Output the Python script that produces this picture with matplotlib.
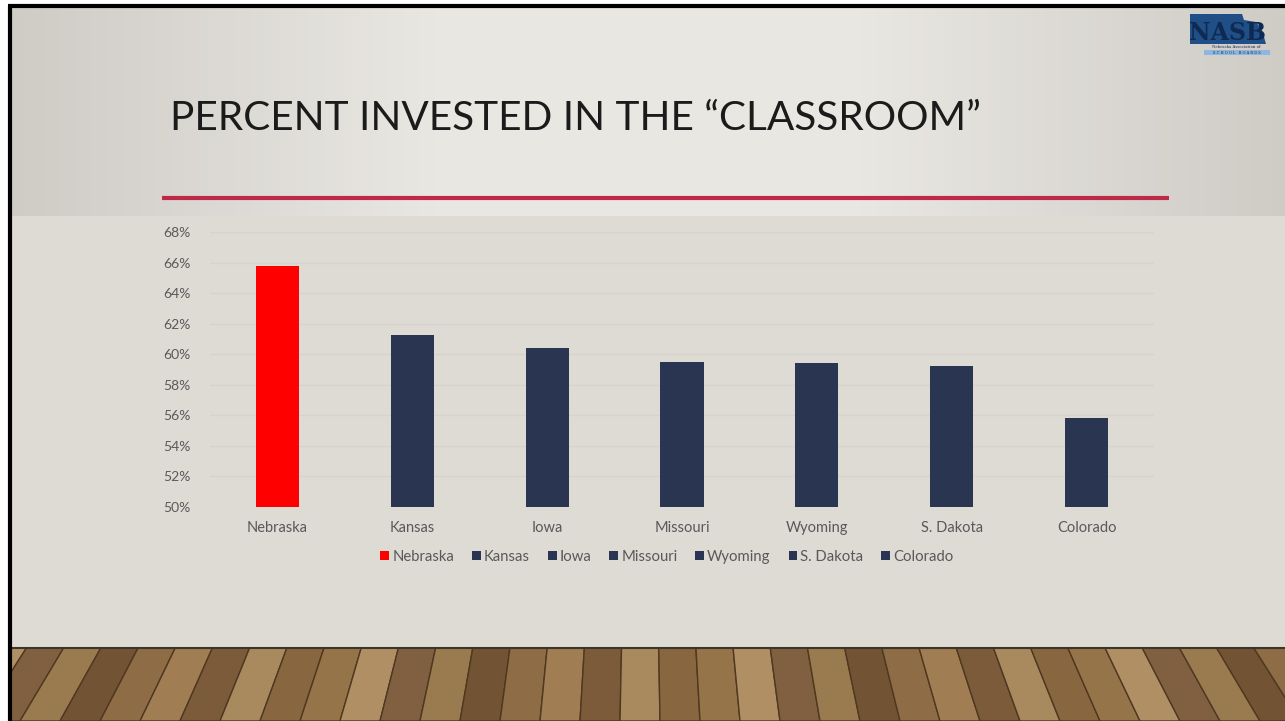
import matplotlib
matplotlib.use("Agg")
import matplotlib.pyplot as plt
import numpy as np
from matplotlib.patches import Patch, Polygon, Rectangle
from matplotlib.colors import LinearSegmentedColormap

# ---- data ----
categories = ["Nebraska", "Kansas", "Iowa", "Missouri", "Wyoming", "S. Dakota", "Colorado"]
values = [65.8, 61.25, 60.4, 59.5, 59.4, 59.2, 55.8]
bar_colors = ["#ff0000", "#2a3551", "#2a3551", "#2a3551", "#2a3551", "#2a3551", "#2a3551"]
y_ticks = [50, 52, 54, 56, 58, 60, 62, 64, 66, 68]
y_tick_labels = [f"{t}%" for t in y_ticks]
title = "PERCENT INVESTED IN THE \u201cCLASSROOM\u201d"

W, H = 1285, 721
fig = plt.figure(figsize=(W / 100, H / 100), dpi=100)
fig.patch.set_facecolor("white")

# ---- background (slide) ----
bg = fig.add_axes([0, 0, 1, 1], zorder=0)
bg.set_xlim(0, W)
bg.set_ylim(H, 0)
bg.axis("off")

bg.add_patch(Rectangle((8, 4), W - 8, H - 4, facecolor="#dedbd5", edgecolor="none"))
grad_cmap = LinearSegmentedColormap.from_list("band", ["#cfccc6", "#e9e7e2", "#e9e7e2", "#cfccc6"])
grad = np.linspace(0, 1, 256).reshape(1, -1)
bg.imshow(grad, cmap=grad_cmap, extent=(11, W, 216, 7), aspect="auto", zorder=1)

# red rule under title
bg.plot([162, 1169], [198, 198], color="#c0284a", lw=3, zorder=3, solid_capstyle="butt")

# title
bg.text(170, 119, title, fontsize=29.2, family="Lato", color="#1b1b1b", va="center", ha="left", zorder=4)

# wooden floor
floor_top = 648
bg.add_patch(Rectangle((11, floor_top), W - 11, H - floor_top, facecolor="#8a6a45", edgecolor="none", zorder=2))
vx, vy = 642, -320
plank_cols = ["#8d6c46", "#a07d52", "#7b5b39", "#a98a5f", "#88663f", "#967449", "#b08f64", "#806040",
              "#9a7a4f", "#725434"]
xs_bottom = list(range(-300, W + 340, 40))
def x_at(xb, y):
    t = (H - y) / (H - vy)
    return xb + (vx - xb) * t
for i in range(len(xs_bottom) - 1):
    x0, x1 = xs_bottom[i], xs_bottom[i + 1]
    poly = [(x0, H), (x1, H), (x_at(x1, floor_top), floor_top), (x_at(x0, floor_top), floor_top)]
    bg.add_patch(Polygon(poly, closed=True, facecolor=plank_cols[i % len(plank_cols)],
                         edgecolor="#4e3820", lw=1.0, zorder=2, clip_on=True))
bg.add_patch(Rectangle((0, 0), 8, H, facecolor="white", edgecolor="none", zorder=2.5))
bg.plot([11, W], [floor_top, floor_top], color="#3e3428", lw=1.5, zorder=3)

# black border lines
bg.plot([9.5, 9.5], [5.5, H], color="black", lw=3, zorder=3.5, solid_capstyle="butt")
bg.plot([8, W], [5.5, 5.5], color="black", lw=3, zorder=3.5, solid_capstyle="butt")

# NASB logo
neb = [(1190, 14), (1242, 14), (1244, 20), (1256, 22), (1262, 30), (1266, 44), (1190, 44)]
bg.add_patch(Polygon(neb, closed=True, facecolor="#1f4f86", edgecolor="none", zorder=4))
bg.text(1227, 33, "NASB", fontsize=17, family="DejaVu Serif", color="#0f2a52", ha="center", va="center", zorder=5,
        fontweight="bold")
bg.text(1236, 47, "Nebraska Association of", fontsize=2.8, family="DejaVu Serif", color="#0f2a52",
        ha="center", va="center", zorder=5)
bg.add_patch(Rectangle((1204, 50), 66, 5, facecolor="#8fb6e0", edgecolor="none", zorder=4))
bg.text(1237, 52.5, "S C H O O L   B O A R D S", fontsize=2.6, family="DejaVu Serif", color="#0f2a52",
        ha="center", va="center", zorder=5)

# ---- chart ----
ax = fig.add_axes([210 / W, 1 - 507 / H, 944 / W, 275 / H], zorder=2)
ax.set_facecolor("none")
x = np.arange(len(categories))
ax.bar(x, values, width=0.32, color=bar_colors, zorder=3)
ax.set_xlim(-0.5, len(categories) - 0.5)
ax.set_ylim(50, 68)
ax.set_yticks(y_ticks)
ax.set_yticklabels(y_tick_labels, fontsize=10, family="Lato", color="#595959")
ax.set_xticks(x)
ax.set_xticklabels(categories, fontsize=10.5, family="Lato", color="#595959")
ax.tick_params(axis="both", length=0)
ax.tick_params(axis="y", pad=14)
ax.tick_params(axis="x", pad=10)
ax.grid(axis="y", color="#d6d3cd", lw=1, zorder=0)
for s in ax.spines.values():
    s.set_visible(False)

handles = [Patch(facecolor=c, edgecolor="none", label=l) for c, l in zip(bar_colors, categories)]
leg = fig.legend(handles=handles, loc="center", bbox_to_anchor=(667 / W, 1 - 557 / H), ncol=7,
                 frameon=False, handlelength=0.6, handleheight=0.6, handletextpad=0.2, columnspacing=1.2,
                 prop={"family": "Lato", "size": 10.7})
for t in leg.get_texts():
    t.set_color("#595959")

fig.savefig("out.png", dpi=100)
